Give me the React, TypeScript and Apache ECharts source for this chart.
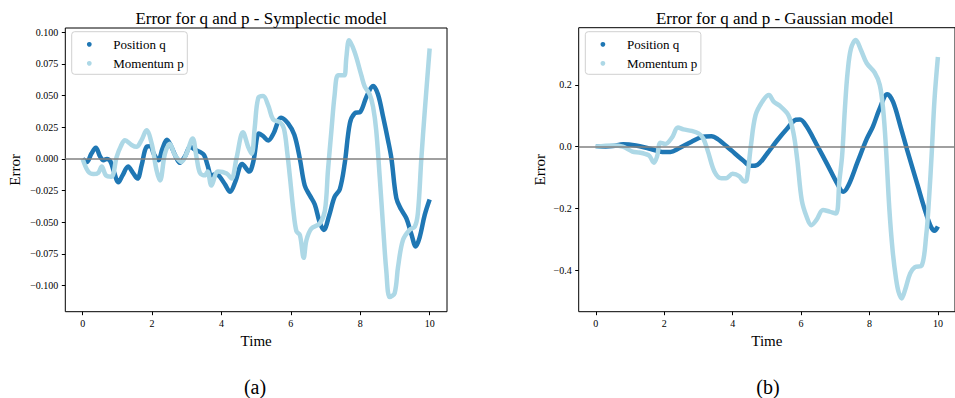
import React, { useEffect, useRef } from "react";
import * as echarts from "echarts";

// Symplectic model: [time, error]
const symQ: number[][] = [
  [0, 0], [0.12, -0.0025], [0.25, 0.004], [0.38, 0.0087], [0.5, 0.002], [0.6, -0.001], [0.7, 0.0], [0.8, -0.002],
  [0.9, -0.01], [1.03, -0.0185], [1.15, -0.013], [1.31, -0.006], [1.45, -0.011], [1.58, -0.0155], [1.7, -0.005],
  [1.84, 0.0095], [1.95, 0.01], [2.05, 0.004], [2.18, -0.001], [2.3, 0.008], [2.43, 0.015], [2.55, 0.01],
  [2.68, 0.002], [2.8, -0.003], [2.95, 0.002], [3.1, 0.0095], [3.25, 0.007], [3.38, 0.0055], [3.5, 0.003],
  [3.6, -0.005], [3.71, -0.013], [3.85, -0.012], [3.95, -0.014], [4.1, -0.02], [4.25, -0.026], [4.4, -0.018],
  [4.6, -0.004], [4.8, -0.01], [4.92, -0.002], [5.08, 0.02], [5.2, 0.018], [5.35, 0.0145], [5.5, 0.02],
  [5.72, 0.0325], [5.92, 0.028], [6.1, 0.019], [6.26, 0.0], [6.4, -0.021], [6.55, -0.029], [6.69, -0.036],
  [6.83, -0.05], [6.95, -0.056], [7.1, -0.045], [7.26, -0.03], [7.41, -0.024], [7.55, -0.004], [7.7, 0.028],
  [7.84, 0.036], [8.0, 0.037], [8.18, 0.049], [8.37, 0.0575], [8.51, 0.051], [8.66, 0.033], [8.8, 0.0147],
  [8.9, 0.0], [9.04, -0.031], [9.18, -0.04], [9.33, -0.047], [9.47, -0.059], [9.6, -0.069], [9.71, -0.062],
  [9.86, -0.044], [10.0, -0.032],
];
const symP: number[][] = [
  [0, 0], [0.16, -0.01], [0.31, -0.012], [0.45, -0.011], [0.55, -0.006], [0.67, -0.013], [0.83, -0.014],
  [0.98, 0.0016], [1.1, 0.01], [1.22, 0.0147], [1.41, 0.011], [1.55, 0.0095], [1.7, 0.015], [1.84, 0.0226],
  [1.99, 0.012], [2.13, -0.009], [2.23, -0.017], [2.37, 0.004], [2.51, 0.012], [2.66, 0.003], [2.85, -0.0024],
  [2.99, 0.004], [3.17, 0.016], [3.28, 0.0016], [3.38, -0.011], [3.52, -0.013], [3.6, -0.01], [3.71, -0.021],
  [3.9, -0.01], [4.15, -0.0115], [4.29, -0.0155], [4.43, 0.0], [4.62, 0.021], [4.77, 0.0095], [4.87, 0.004],
  [4.96, 0.025], [5.06, 0.048], [5.2, 0.0495], [5.35, 0.042], [5.49, 0.031], [5.68, 0.029], [5.8, 0.024],
  [5.9, 0.004], [5.98, -0.016], [6.07, -0.04], [6.16, -0.057], [6.26, -0.06], [6.37, -0.078], [6.45, -0.064],
  [6.59, -0.055], [6.83, -0.051], [6.98, -0.041], [7.07, -0.009], [7.17, 0.0226], [7.26, 0.05], [7.36, 0.066],
  [7.5, 0.066], [7.55, 0.066], [7.6, 0.08], [7.68, 0.0935], [7.84, 0.084], [8.03, 0.066], [8.13, 0.057],
  [8.27, 0.051], [8.37, 0.041], [8.46, 0.0226], [8.56, -0.014], [8.66, -0.054], [8.75, -0.088], [8.85, -0.109],
  [8.99, -0.106], [9.09, -0.085], [9.23, -0.064], [9.42, -0.056], [9.57, -0.0535], [9.66, -0.043], [9.76, 0.0],
  [9.86, 0.038], [10.0, 0.087],
];

// Gaussian model: [time, error]
const gauQ: number[][] = [
  [0, 0], [0.5, 0.002], [0.8, 0.008], [1.17, 0.004], [1.55, -0.006], [1.94, -0.017], [2.18, -0.017],
  [2.42, -0.006], [2.8, 0.016], [3.09, 0.031], [3.38, 0.034], [3.57, 0.024], [3.95, -0.011], [4.29, -0.043],
  [4.53, -0.062], [4.72, -0.059], [5.01, -0.022], [5.3, 0.02], [5.59, 0.058], [5.85, 0.087], [5.97, 0.088],
  [6.16, 0.066], [6.45, 0.008], [6.77, -0.058], [7.05, -0.118], [7.23, -0.146], [7.39, -0.124], [7.65, -0.05],
  [7.92, 0.025], [8.1, 0.065], [8.3, 0.124], [8.52, 0.17], [8.69, 0.145], [8.92, 0.06], [9.1, -0.01],
  [9.4, -0.122], [9.65, -0.215], [9.8, -0.26], [9.9, -0.272], [10.0, -0.258],
];
const gauP: number[][] = [
  [0, 0], [0.5, 0.004], [0.79, 0], [1.07, -0.016], [1.27, -0.019], [1.46, -0.024], [1.57, -0.03], [1.7, -0.052],
  [1.79, -0.032], [1.89, 0.013], [2.03, 0.009], [2.23, 0.03], [2.4, 0.062], [2.56, 0.056], [2.8, 0.051],
  [3.0, 0.043], [3.14, 0.027], [3.28, -0.016], [3.47, -0.081], [3.67, -0.102], [3.81, -0.102], [4.0, -0.088],
  [4.19, -0.095], [4.34, -0.113], [4.41, -0.108], [4.53, 0], [4.67, 0.102], [4.87, 0.146], [5.06, 0.167],
  [5.2, 0.146], [5.39, 0.131], [5.63, 0.102], [5.78, 0.043], [5.89, -0.043], [6.02, -0.173], [6.16, -0.226],
  [6.3, -0.254], [6.45, -0.237], [6.64, -0.205], [6.83, -0.21], [7.02, -0.216], [7.12, -0.11], [7.2, -0.03],
  [7.28, 0.12], [7.36, 0.24], [7.46, 0.318], [7.6, 0.345], [7.75, 0.313], [7.92, 0.27], [8.15, 0.24],
  [8.3, 0.2], [8.4, 0.12], [8.48, 0.0], [8.58, -0.2], [8.68, -0.34], [8.78, -0.43], [8.85, -0.47],
  [8.94, -0.491], [9.04, -0.464], [9.19, -0.41], [9.33, -0.39], [9.52, -0.386], [9.66, -0.285], [9.74, -0.17],
  [9.82, -0.02], [9.9, 0.151], [10.0, 0.29],
];

const xTicks = [0, 2, 4, 6, 8, 10];
const symYTicks = [-0.1, -0.075, -0.05, -0.025, 0, 0.025, 0.05, 0.075, 0.1];
const gauYTicks = [-0.4, -0.2, 0, 0.2];
const titles = ["Error for q and p - Symplectic model", "Error for q and p - Gaussian model"];
const captions = ["(a)", "(b)"];
const seriesNames = ["Position q", "Momentum p"];

const DARK = "#1f77b4";
const LIGHT = "#add8e6";
const FONT = "Liberation Serif";

const fmt = (d: number) => (v: number) => {
  const s = Math.abs(v).toFixed(d);
  return v < -1e-9 ? "\u2212" + s : s;
};

export default function App() {
  const ref = useRef<HTMLDivElement>(null);
  useEffect(() => {
    if (!ref.current) return;
    const chart = echarts.init(ref.current, null, { renderer: "svg" });
    const grids = [
      { left: 65.3, top: 28, width: 381.7, height: 283.7 },
      { left: 578.7, top: 27.7, width: 382, height: 284 },
    ];
    const mkX = (i: number) => ({
      type: "value",
      gridIndex: i,
      min: -0.5,
      max: 10.5,
      name: "Time",
      nameLocation: "middle",
      nameGap: 19,
      nameTextStyle: { fontFamily: FONT, fontSize: 15, color: "#000", verticalAlign: "top" },
      axisLine: { show: false, onZero: false },
      splitLine: { show: false },
      axisTick: { show: true, length: 3.5, lineStyle: { color: "#000" }, customValues: xTicks },
      axisLabel: { fontFamily: FONT, fontSize: 10, color: "#000", margin: 7, customValues: xTicks },
    });
    const mkY = (i: number, min: number, max: number, ticks: number[], d: number, gap: number) => ({
      type: "value",
      gridIndex: i,
      min,
      max,
      name: "Error",
      nameLocation: "middle",
      nameGap: gap,
      nameTextStyle: { fontFamily: FONT, fontSize: 15, color: "#000" },
      axisLine: { show: false, onZero: false },
      splitLine: { show: false },
      axisTick: { show: true, length: 3.5, lineStyle: { color: "#000" }, customValues: ticks },
      axisLabel: { fontFamily: FONT, fontSize: 10, color: "#000", margin: 7, customValues: ticks, formatter: fmt(d) },
    });
    const mkLine = (name: string, data: number[][], color: string, i: number, z: number) => ({
      name,
      type: "line",
      xAxisIndex: i,
      yAxisIndex: i,
      data,
      smooth: 0.35,
      showSymbol: false,
      symbol: "none",
      z,
      lineStyle: { color, width: 4.5 },
      itemStyle: { color },
    });
    const zero = (i: number) => ({
      type: "line",
      xAxisIndex: i,
      yAxisIndex: i,
      data: [],
      z: 10,
      markLine: {
        silent: true,
        symbol: "none",
        label: { show: false },
        lineStyle: { color: "#808080", width: 1.5, type: "solid" },
        data: [{ yAxis: 0 }],
      },
    });
    const legendText = (y: number, text: string) => ({
      type: "text",
      x: 113.3,
      y,
      style: { text, fontFamily: FONT, fontSize: 13, fill: "#000", verticalAlign: "middle" },
    });
    const legend = (dx: number) => ({
      type: "group",
      x: dx,
      y: 0,
      z: 100,
      children: [
        {
          type: "rect",
          shape: { x: 71.7, y: 31.7, width: 115.6, height: 42.6, r: 3 },
          style: { fill: "rgba(255,255,255,0.85)", stroke: "#d0d0d0", lineWidth: 1 },
        },
        { type: "circle", shape: { cx: 89.3, cy: 44.3, r: 2.4 }, style: { fill: DARK } },
        { type: "circle", shape: { cx: 89.3, cy: 63.3, r: 2.4 }, style: { fill: LIGHT } },
        legendText(44.3, seriesNames[0]),
        legendText(63.3, seriesNames[1]),
      ],
    });
    const ts = (size: number) => ({ fontFamily: FONT, fontSize: size, fontWeight: "normal", color: "#000" });
    chart.setOption({
      animation: false,
      backgroundColor: "#fff",
      title: [
        { text: titles[0], left: 256.2, top: 5, textAlign: "center", textStyle: ts(17) },
        { text: titles[1], left: 769.7, top: 5, textAlign: "center", textStyle: ts(17) },
        { text: captions[0], left: 250, top: 372, textAlign: "center", textStyle: ts(20) },
        { text: captions[1], left: 763, top: 372, textAlign: "center", textStyle: ts(20) },
      ],
      grid: grids.map((g) => ({ ...g, show: true, borderColor: "#000", borderWidth: 1, backgroundColor: "transparent" })),
      xAxis: [mkX(0), mkX(1)],
      yAxis: [
        mkY(0, -0.1205, 0.1032, symYTicks, 3, 43),
        mkY(1, -0.534, 0.385, gauYTicks, 1, 31),
      ],
      series: [
        mkLine(seriesNames[0], symQ, DARK, 0, 2),
        mkLine(seriesNames[1], symP, LIGHT, 0, 3),
        zero(0),
        mkLine(seriesNames[0], gauQ, DARK, 1, 2),
        mkLine(seriesNames[1], gauP, LIGHT, 1, 3),
        zero(1),
      ],
      graphic: [legend(0), legend(513.6)],
    });
    return () => chart.dispose();
  }, []);
  return <div ref={ref} style={{ position: "fixed", left: 0, top: 0, width: 955, height: 398 }} />;
}
